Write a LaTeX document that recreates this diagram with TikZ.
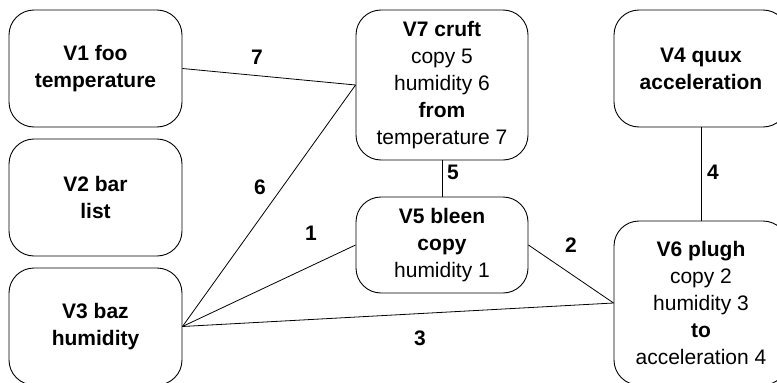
\documentclass[tikz,border=0pt]{standalone}
\usepackage{fontspec}
\setmainfont{Liberation Sans}
\begin{document}
\begin{tikzpicture}[x=1pt,y=-1pt,
  every node/.style={font=\fontsize{21}{27}\selectfont},
  vbox/.style={draw=black,line width=0.9pt,rounded corners=25pt,
    inner sep=0pt,align=center,minimum width=#1},
  vbox/.default=173pt,
  wire/.style={draw=black,line width=0.8pt},
  num/.style={font=\fontsize{21}{27}\selectfont\bfseries,inner sep=0pt}]
\useasboundingbox (0,0) rectangle (777,383);
\clip (0,0) rectangle (777,383);

% variable boxes
\node[vbox,minimum height=117pt] (v1) at (95.5,68.5) {\textbf{V1 foo}\\\textbf{temperature}};
\node[vbox,minimum height=117pt] (v2) at (95.5,197.5) {\textbf{V2 bar}\\\textbf{list}};
\node[vbox,minimum height=117pt] (v3) at (95.5,326.5) {\textbf{V3 baz}\\\textbf{humidity}};
\node[vbox=172pt,minimum height=150pt] (v7) at (442,85)
  {\textbf{V7 cruft}\\copy 5\\humidity 6\\\textbf{from}\\temperature 7};
\node[vbox=172pt,minimum height=96pt] (v5) at (442,245)
  {\textbf{V5 bleen}\\\textbf{copy}\\humidity 1};
\node[vbox=174pt,minimum height=117pt] (v4) at (701,68.5) {\textbf{V4 quux}\\\textbf{acceleration}};
\node[vbox=174pt,minimum height=164pt] (v6) at (701,303)
  {\textbf{V6 plugh}\\copy 2\\humidity 3\\\textbf{to}\\acceleration 4};

% connectors
\draw[wire] (v1.east) -- (v7.west);
\draw[wire] (v3.east) -- (v7.west);
\draw[wire] (v3.east) -- (v5.west);
\draw[wire] (v3.east) -- (v6.west);
\draw[wire] (v5.east) -- (v6.west);
\draw[wire] (v7.south) -- (v5.north);
\draw[wire] (v4.south) -- (v6.north);

% connector labels
\node[num] (l7) at (257,57) {7};
\node[num] (l6) at (260,187) {6};
\node[num] (l1) at (311,233) {1};
\node[num] (l5) at (453,172) {5};
\node[num] (l4) at (713,172) {4};
\node[num] (l2) at (571,245) {2};
\node[num] (l3) at (420,338) {3};
\end{tikzpicture}
\end{document}
